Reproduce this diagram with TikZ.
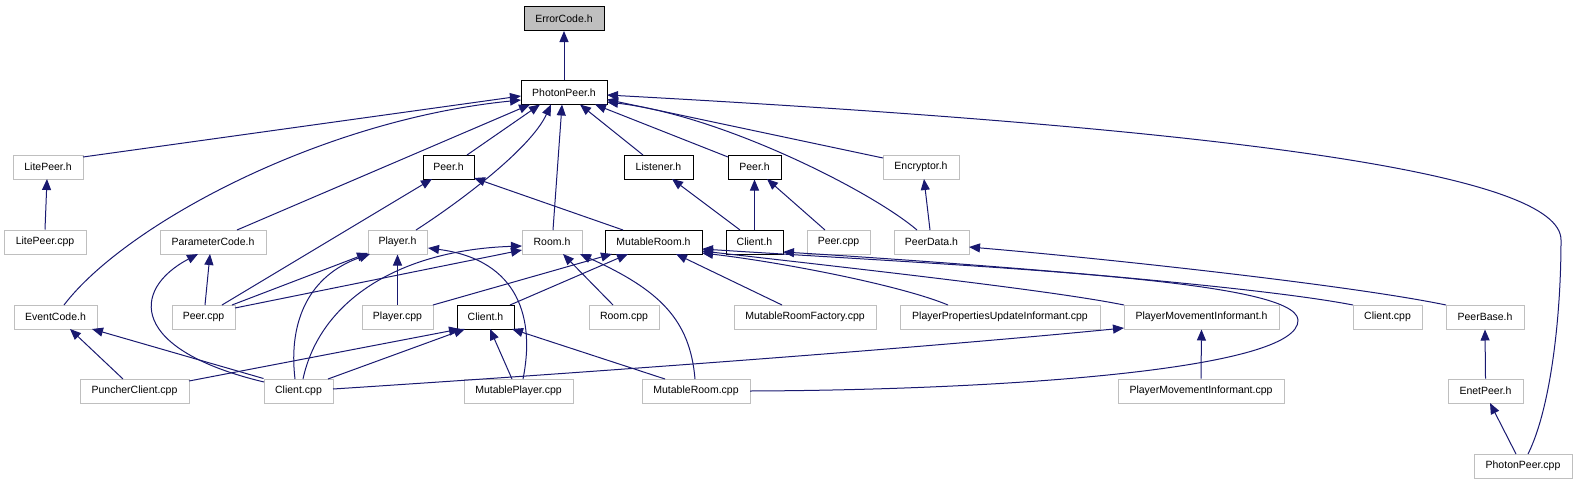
\documentclass[tikz,border=0pt]{standalone}
\usepackage{fontspec}
\setmainfont{Liberation Sans}
\usetikzlibrary{arrows.meta,calc}
\definecolor{edgeblue}{HTML}{191970}
\definecolor{boxgray}{HTML}{BFBFBF}
\begin{document}
\begin{tikzpicture}[x=1pt,y=-1pt,
  box/.style={draw=boxgray,line width=1pt,fill=white,minimum height=24pt,inner sep=0pt,
    font=\fontsize{10.5}{12}\selectfont},
  dbox/.style={box,draw=black},
  e/.style={draw=edgeblue,line width=1pt,-{Triangle[length=11pt,width=9pt]}},
]
\useasboundingbox (0,0) rectangle (1576,485);
% row 0/1
\node[dbox,fill=boxgray,minimum width=80pt] (EC) at (564,18.5) {ErrorCode.h};
\node[dbox,minimum width=86pt] (PPh) at (564,92.5) {PhotonPeer.h};
% row 2
\node[box,minimum width=70pt] (LPh) at (48,167) {LitePeer.h};
\node[dbox,minimum width=51pt] (Peh1) at (448.5,167) {Peer.h};
\node[dbox,minimum width=69pt] (Lis) at (658.5,167) {Listener.h};
\node[dbox,minimum width=53pt] (Peh2) at (754.5,167) {Peer.h};
\node[box,minimum width=76pt] (Enc) at (921,167) {Encryptor.h};
% row 3
\node[box,minimum width=82pt] (LPcpp) at (45,242) {LitePeer.cpp};
\node[box,minimum width=106pt] (ParC) at (213,242) {ParameterCode.h};
\node[box,minimum width=59pt] (Plh) at (397.5,242) {Player.h};
\node[box,minimum width=60pt] (Roomh) at (552,242) {Room.h};
\node[dbox,minimum width=97pt] (MRh) at (653.5,242) {MutableRoom.h};
\node[dbox,minimum width=57pt] (Clh1) at (754.5,242) {Client.h};
\node[box,minimum width=63pt] (Pecpp2) at (838.5,242) {Peer.cpp};
\node[box,minimum width=75pt] (PD) at (931.5,242) {PeerData.h};
% row 4
\node[box,minimum width=83pt] (EvC) at (55.5,317) {EventCode.h};
\node[box,minimum width=63pt] (Pecpp1) at (203.5,317) {Peer.cpp};
\node[box,minimum width=71pt] (Plcpp) at (397.5,317) {Player.cpp};
\node[dbox,minimum width=57pt] (Clh2) at (485.5,317) {Client.h};
\node[box,minimum width=70pt] (Roomcpp) at (624,317) {Room.cpp};
\node[box,minimum width=142pt] (MRF) at (805,317) {MutableRoomFactory.cpp};
\node[box,minimum width=200pt] (PPUI) at (1000,317) {PlayerPropertiesUpdateInformant.cpp};
\node[box,minimum width=155pt] (PMIh) at (1201.5,317) {PlayerMovementInformant.h};
\node[box,minimum width=69pt] (Clcpp2) at (1387.5,317) {Client.cpp};
\node[box,minimum width=78pt] (PB) at (1485,317) {PeerBase.h};
% row 5
\node[box,minimum width=109pt] (PC) at (134.5,391) {PuncherClient.cpp};
\node[box,minimum width=69pt] (Clcpp1) at (298.5,391) {Client.cpp};
\node[box,minimum width=109pt] (MP) at (518.5,391) {MutablePlayer.cpp};
\node[box,minimum width=108pt] (MRcpp) at (696,391) {MutableRoom.cpp};
\node[box,minimum width=166pt] (PMIcpp) at (1201,391) {PlayerMovementInformant.cpp};
\node[box,minimum width=75pt] (EP) at (1485.5,391) {EnetPeer.h};
% row 6
\node[box,minimum width=98pt] (PPcpp) at (1523,466) {PhotonPeer.cpp};

% edges into PhotonPeer.h / ErrorCode.h
\draw[e] (PPh.north) -- (EC.south);
\draw[e] ($(LPh)+(35,-10)$) -- ($(PPh)+(-43,3.5)$);
\draw[e] ($(EvC)+(8.5,-12)$) .. controls (125,225) and (320,120) .. ($(PPh)+(-43,7.5)$);
\draw[e] ($(ParC)+(24,-12)$) -- ($(PPh)+(-34,12)$);
\draw[e] ($(Peh1)+(18.5,-12)$) -- ($(PPh)+(-24,12)$);
\draw[e] ($(Plh)+(18.5,-12)$) .. controls (455,205) and (530,150) .. ($(PPh)+(-13,12)$);
\draw[e] ($(Roomh)+(1,-12)$) -- ($(PPh)+(-2,12)$);
\draw[e] ($(Lis)+(-15.5,-12)$) -- ($(PPh)+(16,12)$);
\draw[e] ($(Peh2)+(-26.5,-10)$) -- ($(PPh)+(31,12)$);
\draw[e] ($(PD)+(-14.5,-12)$) .. controls (870,190) and (720,115) .. ($(PPh)+(43,9.5)$);
\draw[e] ($(Enc)+(-38,-9)$) -- ($(PPh)+(43,7)$);
\draw[e] ($(PPcpp)+(5,-12)$) .. controls (1550,410) and (1561,320) .. (1561,240)
   .. controls (1561,175) and (1250,130) .. ($(PPh)+(43,2.5)$);

% second level
\draw[e] (LPcpp.north) -- ($(LPh)+(-1,12)$);
\draw[e] ($(Pecpp1)+(18.5,-12)$) -- ($(Peh1)+(-16.5,12)$);
\draw[e] ($(MRh)+(-30.5,-12)$) -- ($(Peh1)+(25.5,11)$);
\draw[e] ($(Clh1)+(-14.5,-12)$) -- ($(Lis)+(13.5,12)$);
\draw[e] (Clh1.north) -- (Peh2.south);
\draw[e] ($(Pecpp2)+(-13.5,-12)$) -- ($(Peh2)+(12.5,12)$);
\draw[e] ($(PD)+(-1.5,-12)$) -- ($(Enc)+(3,12)$);

% into ParameterCode.h, Player.h, Room.h, MutableRoom.h
\draw[e] ($(Pecpp1)+(1.5,-12)$) -- ($(ParC)+(-3,12)$);
\draw[e] ($(Clcpp1)+(-34.5,-9)$) .. controls (130,350) and (130,290) .. ($(ParC)+(-15,12)$);
\draw[e] ($(Pecpp1)+(28.5,-12)$) -- ($(Plh)+(-29.5,11)$);
\draw[e] (Plcpp.north) -- (Plh.south);
\draw[e] ($(Clcpp1)+(-3.5,-12)$) .. controls (288,320) and (310,275) .. ($(Plh)+(-27.5,12)$);
\draw[e] ($(MP)+(4.5,-12)$) .. controls (535,320) and (520,260) .. ($(Plh)+(30.5,6)$);
\draw[e] ($(Pecpp1)+(31.5,-9)$) -- ($(Roomh)+(-30,8)$);
\draw[e] ($(Clcpp1)+(4.5,-12)$) .. controls (320,300) and (400,250) .. ($(Roomh)+(-30,4)$);
\draw[e] ($(Roomcpp)+(-11,-12)$) -- ($(Roomh)+(11,12)$);
\draw[e] ($(MRcpp)+(-1,-12)$) .. controls (690,320) and (660,290) .. ($(Roomh)+(28,12)$);
\draw[e] ($(Plcpp)+(35.5,-12)$) -- ($(MRh)+(-41.5,12)$);
\draw[e] ($(Clh2)+(24.5,-12)$) -- ($(MRh)+(-25.5,12)$);
\draw[e] ($(MRF)+(-23,-12)$) -- ($(MRh)+(22.5,12)$);
\draw[e] ($(PPUI)+(-52,-12)$) .. controls (900,285) and (780,262) .. ($(MRh)+(48.5,11)$);
\draw[e] ($(PMIh)+(-77.5,-12)$) .. controls (1050,290) and (850,268) .. ($(MRh)+(48.5,9)$);
\draw[e] ($(MRcpp)+(54,0)$) .. controls (1000,390) and (1300,370) .. (1298,320)
   .. controls (1296,280) and (1000,268) .. ($(MRh)+(48.5,7)$);
\draw[e] ($(Clcpp2)+(-34.5,-12)$) .. controls (1250,285) and (950,262) .. ($(Clh1)+(28.5,10)$);
\draw[e] ($(PB)+(-39,-12)$) .. controls (1350,285) and (1100,258) .. ($(PD)+(37.5,5)$);
\draw[e] ($(Clcpp1)+(34.5,-2)$) .. controls (550,375) and (900,350) .. ($(PMIh)+(-77.5,11)$);

% bottom level
\draw[e] ($(PC)+(-11.5,-12)$) -- ($(EvC)+(14.5,12)$);
\draw[e] (Clcpp1.north west) -- ($(EvC)+(36.5,12)$);
\draw[e] ($(PC)+(54.5,-10)$) -- ($(Clh2)+(-25.5,12)$);
\draw[e] ($(Clcpp1)+(29.5,-12)$) -- ($(Clh2)+(-20.5,12)$);
\draw[e] ($(MP)+(-6.5,-12)$) -- ($(Clh2)+(4.5,12)$);
\draw[e] ($(MRcpp)+(-31,-12)$) -- ($(Clh2)+(26.5,12)$);
\draw[e] (PMIcpp.north) -- (PMIh.south);
\draw[e] (EP.north) -- (PB.south);
\draw[e] ($(PPcpp)+(-7,-12)$) -- ($(EP)+(4.5,12)$);
\end{tikzpicture}
\end{document}
